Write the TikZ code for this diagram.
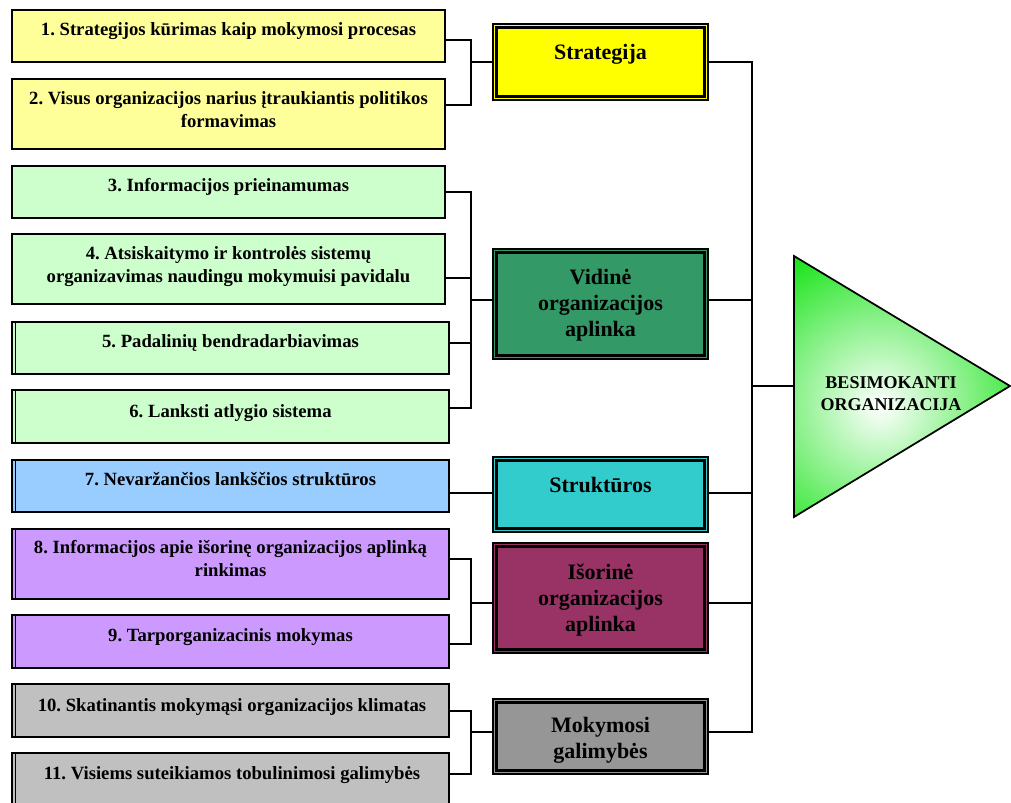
\documentclass[tikz,border=0pt]{standalone}
\usepackage{fontspec}
\setmainfont{Liberation Serif}
\usetikzlibrary{fit}
\frenchspacing
\definecolor{cYl}{RGB}{255,255,153}
\definecolor{cY}{RGB}{255,255,0}
\definecolor{cGl}{RGB}{204,255,204}
\definecolor{cG}{RGB}{51,153,102}
\definecolor{cBl}{RGB}{153,204,255}
\definecolor{cT}{RGB}{51,204,204}
\definecolor{cPl}{RGB}{204,153,255}
\definecolor{cP}{RGB}{153,51,102}
\definecolor{cGrl}{RGB}{192,192,192}
\definecolor{cGr}{RGB}{150,150,150}
\definecolor{cTri}{RGB}{30,228,30}
\newcommand\dblleft[1]{\draw[line width=0.8pt] ([xshift=3pt]#1.north west) -- ([xshift=3pt]#1.south west);}
\newcommand\innerframe[1]{\draw[line width=2pt] ([shift={(3.5pt,-3.5pt)}]#1.north west) rectangle ([shift={(-3.5pt,3.5pt)}]#1.south east);}
\begin{document}
\begin{tikzpicture}[x=0.75pt,y=-0.75pt,
  lbox/.style={draw=black, line width=1.3pt, inner sep=0pt},
  cbox/.style={draw=black, line width=1.5pt, inner sep=0pt},
  ltext/.style={font=\fontsize{14}{17}\selectfont\bfseries, align=center, inner sep=0pt, anchor=base},
  ctext/.style={font=\fontsize{16.5}{19.5}\selectfont\bfseries, align=center, inner sep=0pt, anchor=base},
  ttext/.style={font=\fontsize{13.5}{16.5}\selectfont\bfseries, align=center, inner sep=0pt, anchor=base},
  conn/.style={draw=black, line width=1.1pt},
]
\useasboundingbox (0,0) rectangle (1011,803);

% left boxes
\node[lbox, fill=cYl, fit={(12,10) (445,62)}] (b1) {};
\node[lbox, fill=cYl, fit={(12,79) (445,149)}] (b2) {};
\node[lbox, fill=cGl, fit={(12,166) (445,218)}] (b3) {};
\node[lbox, fill=cGl, fit={(12,234) (445,304)}] (b4) {};
\node[lbox, fill=cGl, fit={(12,322) (449,374)}] (b5) {};
\node[lbox, fill=cGl, fit={(12,390) (449,443)}] (b6) {};
\node[lbox, fill=cBl, fit={(12,460) (449,512)}] (b7) {};
\node[lbox, fill=cPl, fit={(12,529) (449,599)}] (b8) {};
\node[lbox, fill=cPl, fit={(12,615) (449,668)}] (b9) {};
\node[lbox, fill=cGrl, fit={(12,684) (449,737)}] (b10) {};
\node[lbox, fill=cGrl, fit={(12,753) (449,808)}] (b11) {};
\dblleft{b5}\dblleft{b6}\dblleft{b7}\dblleft{b8}\dblleft{b9}\dblleft{b10}\dblleft{b11}

\node[ltext] (t1) at (228.5,36) {1. Strategijos kūrimas kaip mokymosi procesas};
\node[ltext] (t2) at (228.5,127) {2. Visus organizacijos narius įtraukiantis politikos\\formavimas};
\node[ltext] (t3) at (228.5,191) {3. Informacijos prieinamumas};
\node[ltext] (t4) at (228.5,282) {4. Atsiskaitymo ir kontrolės sistemų\\organizavimas naudingu mokymuisi pavidalu};
\node[ltext] (t5) at (230.5,347) {5. Padalinių bendradarbiavimas};
\node[ltext] (t6) at (230.5,417) {6. Lanksti atlygio sistema};
\node[ltext] (t7) at (230.5,485) {7. Nevaržančios lankščios struktūros};
\node[ltext] (t8) at (230.5,576) {8. Informacijos apie išorinę organizacijos aplinką\\rinkimas};
\node[ltext] (t9) at (230.5,641) {9. Tarporganizacinis mokymas};
\node[ltext] (t10) at (232,711) {10. Skatinantis mokymąsi organizacijos klimatas};
\node[ltext] (t11) at (232,779) {11. Visiems suteikiamos tobulinimosi galimybės};

% category boxes
\node[cbox, fill=cY, fit={(493,24) (708,100)}] (c1) {};
\node[cbox, fill=cG, fit={(493,249) (708,359)}] (c2) {};
\node[cbox, fill=cT, fit={(493,457) (708,532)}] (c3) {};
\node[cbox, fill=cP, fit={(493,543) (708,653)}] (c4) {};
\node[cbox, fill=cGr, fit={(493,699) (708,774)}] (c5) {};
\innerframe{c1}\innerframe{c2}\innerframe{c3}\innerframe{c4}\innerframe{c5}

\node[ctext] (k1) at (600.5,60) {Strategija};
\node[ctext] (k2) at (600.5,336) {Vidinė\\organizacijos\\aplinka};
\node[ctext] (k3) at (600.5,492) {Struktūros};
\node[ctext] (k4) at (600.5,631) {Išorinė\\organizacijos\\aplinka};
\node[ctext] (k5) at (600.5,758) {Mokymosi\\galimybės};

% triangle
\coordinate (ta) at (794,256);
\coordinate (tb) at (794,517);
\coordinate (tc) at (1010,386);
\begin{scope}
\clip (ta) -- (tc) -- (tb) -- cycle;
\fill[cTri] (ta) -- (tc) -- (tb) -- cycle;
\shade[inner color=white, outer color=cTri] (880,405) circle (165);
\end{scope}
\draw[line width=1.3pt, line join=miter] (ta) -- (tc) -- (tb) -- cycle;
\node[ttext] (tri) at (891,410) {BESIMOKANTI\\ORGANIZACIJA};

% left connectors
\coordinate (s1) at (471,40);
\coordinate (s2) at (471,105);
\coordinate (sm) at (471,62);
\draw[conn] (b1.east |- s1) -- (s1) -- (s2) -- (b2.east |- s2);
\draw[conn] (sm) -- (c1.west |- sm);

\coordinate (v3) at (471,192);
\coordinate (v4) at (471,278);
\coordinate (v5) at (471,343);
\coordinate (v6) at (471,408);
\coordinate (vm) at (471,300);
\draw[conn] (b3.east |- v3) -- (v3) -- (v6) -- (b6.east |- v6);
\draw[conn] (b4.east |- v4) -- (v4);
\draw[conn] (b5.east |- v5) -- (v5);
\draw[conn] (vm) -- (c2.west |- vm);

\coordinate (st) at (471,493);
\draw[conn] (b7.east |- st) -- (c3.west |- st);

\coordinate (i8) at (471,559);
\coordinate (i9) at (471,644);
\coordinate (im) at (471,603);
\draw[conn] (b8.east |- i8) -- (i8) -- (i9) -- (b9.east |- i9);
\draw[conn] (im) -- (c4.west |- im);

\coordinate (m10) at (471,711);
\coordinate (m11) at (471,774);
\coordinate (mm) at (471,732);
\draw[conn] (b10.east |- m10) -- (m10) -- (m11) -- (b11.east |- m11);
\draw[conn] (mm) -- (c5.west |- mm);

% right bus
\coordinate (r1) at (752,62);
\coordinate (r2) at (752,300);
\coordinate (r3) at (752,493);
\coordinate (r4) at (752,603);
\coordinate (r5) at (752,732);
\coordinate (rt) at (752,386);
\draw[conn] (c1.east |- r1) -- (r1) -- (r5) -- (c5.east |- r5);
\draw[conn] (c2.east |- r2) -- (r2);
\draw[conn] (c3.east |- r3) -- (r3);
\draw[conn] (c4.east |- r4) -- (r4);
\draw[conn] (rt) -- (ta |- rt);
\end{tikzpicture}
\end{document}
